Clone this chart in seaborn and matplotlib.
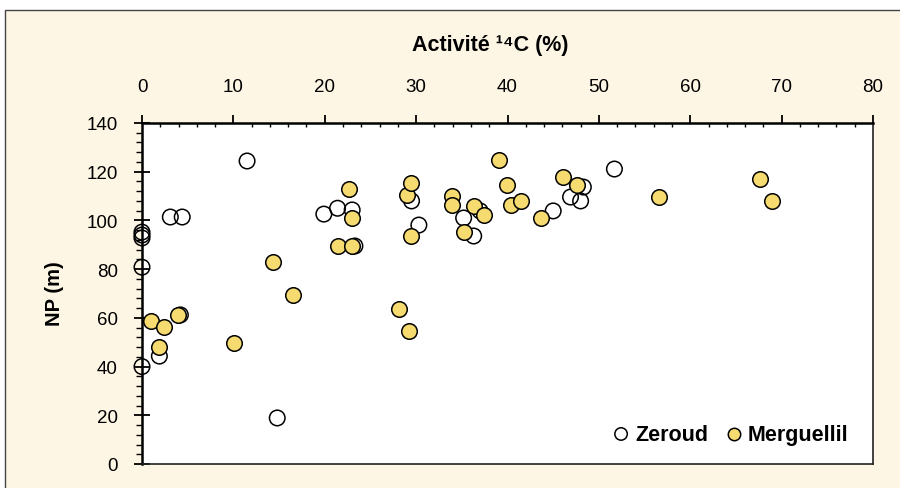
import matplotlib
matplotlib.use("Agg")
import matplotlib.pyplot as plt
from matplotlib.patches import Rectangle
from matplotlib.ticker import MultipleLocator
import seaborn as sns
import pandas as pd

# ---- data ----
zeroud_x = [0, 0, 0, 0, 0, 1.9, 3.1, 4.4, 4.2, 11.5, 14.8, 19.9, 21.4, 23.0, 23.3,
            29.5, 30.3, 35.2, 36.3, 37.0, 45.0, 46.9, 48.0, 48.3, 51.7]
zeroud_y = [95.2, 94.0, 92.8, 80.8, 40.0, 44.3, 101.4, 101.4, 61.2, 124.4, 18.9, 102.6, 105.0, 104.3, 89.5,
            108.0, 98.1, 101.0, 93.6, 103.9, 103.9, 109.6, 108.0, 113.7, 121.1]
merg_x = [1.0, 1.9, 2.4, 3.9, 10.1, 14.3, 16.5, 21.4, 22.7, 23.0, 23.0, 28.1, 29.0, 29.2, 29.4, 29.4,
          33.9, 33.9, 35.2, 36.3, 37.4, 39.1, 39.9, 40.4, 41.5, 43.7, 46.1, 47.6, 56.6, 67.6, 68.9]
merg_y = [58.7, 48.0, 56.2, 61.0, 49.7, 83.0, 69.4, 89.5, 112.9, 101.0, 89.5, 63.6, 110.4, 54.6, 115.4, 93.6,
          110.0, 106.3, 95.2, 105.9, 102.2, 124.8, 114.5, 106.3, 108.0, 101.0, 117.8, 114.5, 109.6, 117.0, 108.0]
series_names = ["Zeroud", "Merguellil"]
x_ticks = [0, 10, 20, 30, 40, 50, 60, 70, 80]
y_ticks = [0, 20, 40, 60, 80, 100, 120, 140]
x_title = "Activité ¹⁴C (%)"
y_title = "NP (m)"

CREAM = "#FEF6E4"
YELLOW = "#F6DB70"
FONT = ["Liberation Sans", "DejaVu Sans"]

sns.set_style("ticks")
plt.rcParams["font.family"] = FONT
plt.rcParams["text.color"] = "black"

fig = plt.figure(figsize=(9, 4.89), dpi=100, facecolor="white")
fig.patches.append(Rectangle((5 / 900, -0.1), 1.2, 1 - 11 / 489 + 0.1,
                             transform=fig.transFigure, facecolor=CREAM,
                             edgecolor="#444444", linewidth=1.0, zorder=-5))
ax = fig.add_axes([142 / 900, 1 - 465 / 489, (873 - 142) / 900, (465 - 124) / 489])
ax.set_facecolor("white")

dz = pd.DataFrame({"x": zeroud_x, "y": zeroud_y})
dm = pd.DataFrame({"x": merg_x, "y": merg_y})
sns.scatterplot(data=dz, x="x", y="y", ax=ax, s=125, facecolor="none",
                edgecolor="black", linewidth=1.1, clip_on=False, label=series_names[0], legend=False)
sns.scatterplot(data=dm, x="x", y="y", ax=ax, s=125, color=YELLOW,
                edgecolor="black", linewidth=1.1, clip_on=False, label=series_names[1], legend=False)

ax.set_xlim(0, 80)
ax.set_ylim(0, 140)
ax.set_xlabel("")
ax.set_ylabel("")
ax.set_xticks(x_ticks)
ax.set_yticks(y_ticks)
ax.xaxis.set_minor_locator(MultipleLocator(2))
ax.yaxis.set_minor_locator(MultipleLocator(4))
ax.xaxis.tick_top()
ax.tick_params(axis="x", which="major", direction="out", length=6, width=1.3,
               pad=14, labelsize=13.5, color="black", labelcolor="black")
ax.tick_params(axis="x", which="minor", direction="in", length=3, width=1.0, color="black")
ax.tick_params(axis="y", which="major", direction="inout", length=12, width=1.3,
               pad=11.5, labelsize=13.5, color="black", labelcolor="black")
ax.tick_params(axis="y", which="minor", direction="out", length=4, width=1.0, color="black")
ax.tick_params(axis="y", which="both", right=False)
ax.tick_params(axis="x", which="both", bottom=False)

for side in ["top", "left"]:
    ax.spines[side].set_linewidth(1.8)
    ax.spines[side].set_color("black")
for side in ["right", "bottom"]:
    ax.spines[side].set_linewidth(1.2)
    ax.spines[side].set_color("#222222")
    ax.spines[side].set_visible(True)

fig.text(490 / 900, 1 - 45 / 489, x_title, ha="center", va="center",
         fontsize=15.5, fontweight="bold", family=FONT, color="black")
fig.text(55 / 900, 1 - 294 / 489, y_title, ha="center", va="center", rotation=90,
         fontsize=14.5, fontweight="bold", family=FONT, color="black")

handles = ax.collections[:2]
leg = ax.legend(handles=handles, labels=series_names, loc="lower right", ncol=2,
                frameon=False, bbox_to_anchor=(0.993, 0.0), markerscale=0.8,
                handletextpad=0.05, columnspacing=0.6, handlelength=1.2,
                prop={"family": FONT, "weight": "bold", "size": 15.5})

fig.savefig("out.png", dpi=100, facecolor="white")
